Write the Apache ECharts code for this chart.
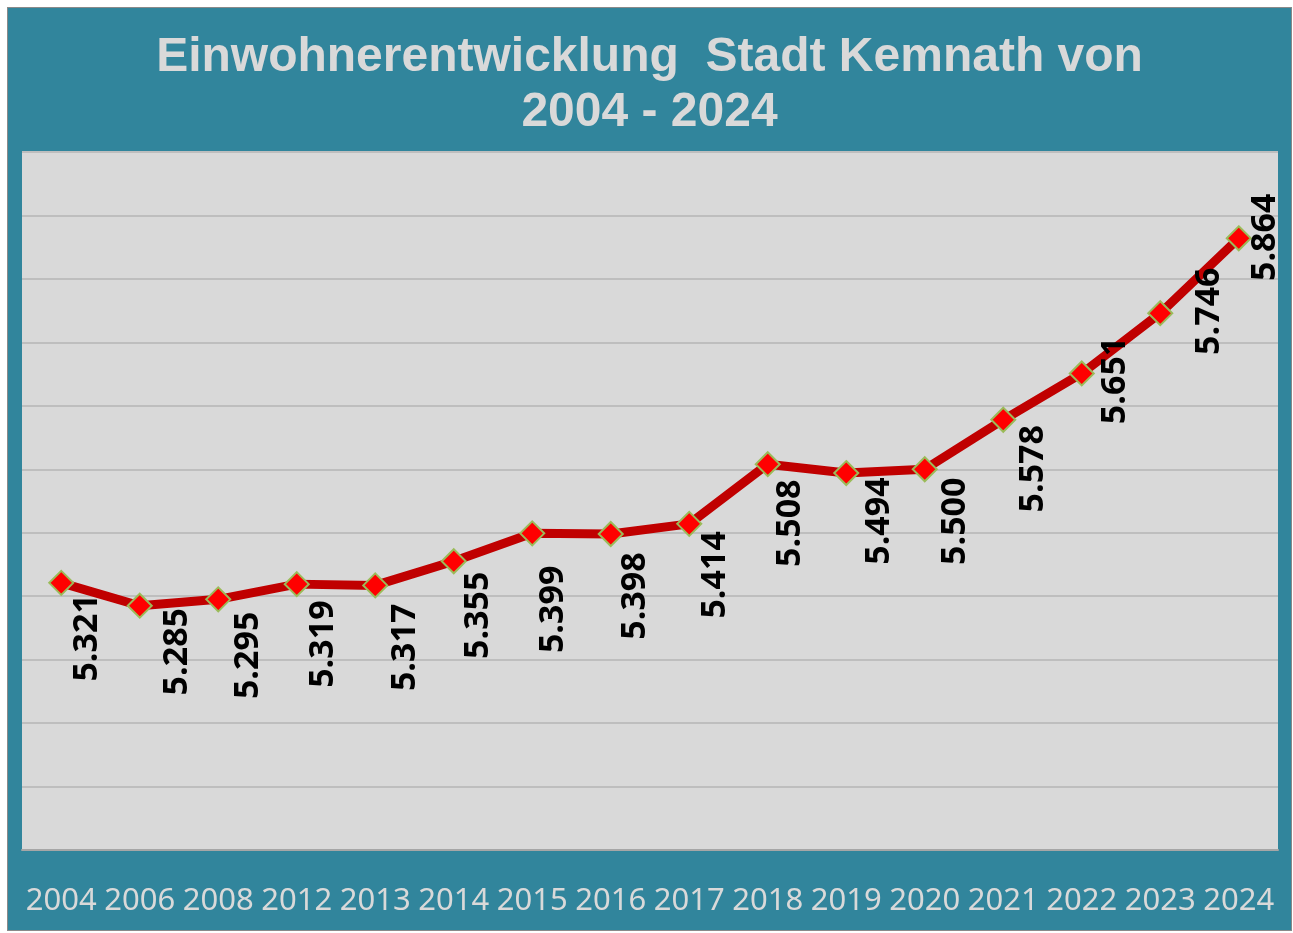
<!DOCTYPE html>
<html>
<head>
<meta charset="utf-8">
<script src="https://cdn.jsdelivr.net/npm/echarts@6/dist/echarts.min.js"></script>
<style>
html,body{margin:0;padding:0;background:#ffffff;}
#frame{position:absolute;left:7px;top:7px;width:1283px;height:922px;border:1px solid #8a8a8a;background:#31859C;}
#c{width:1283px;height:922px;}
</style>
</head>
<body>
<div id="frame"><div id="c"></div></div>
<script>
// ---- data ----
const years = ['2004','2006','2008','2012','2013','2014','2015','2016','2017','2018','2019','2020','2021','2022','2023','2024'];
const population = [5321, 5285, 5295, 5319, 5317, 5355, 5399, 5398, 5414, 5508, 5494, 5500, 5578, 5651, 5746, 5864];
const titleText = 'Einwohnerentwicklung  Stadt Kemnath von\n2004 - 2024';

// ---- label placement (style, px offset of label centre from the point) ----
const labelShift = [[27,56],[39,47],[31,57],[28,61],[31,63],[26,55],[22,77],[26,63],[27,52],[24,60],[34,49],[32,53],[31,50],[35,8],[50,-1],[28,0]];
const SYM = 24;

function fmt(v){
  const s = String(v);
  return s.slice(0, s.length-3) + '.' + s.slice(s.length-3);
}

const chart = echarts.init(document.getElementById('c'), null, {renderer:'canvas'});
chart.setOption({
  backgroundColor: 'transparent',
  animation: false,
  title: {
    text: titleText,
    left: 'center',
    top: 17,
    textStyle: {
      fontFamily: 'Liberation Sans, Arial, sans-serif',
      fontWeight: 'bold',
      fontSize: 48,
      lineHeight: 55,
      color: '#D9D9D9'
    }
  },
  grid: {
    left: 14, top: 144, width: 1256, height: 698,
    show: true, backgroundColor: '#D9D9D9', borderWidth: 0
  },
  xAxis: {
    type: 'category',
    data: years,
    boundaryGap: true,
    axisLine: {show: true, lineStyle: {color: '#A6A6A6', width: 2}},
    axisTick: {show: false},
    axisLabel: {
      interval: 0,
      margin: 36,
      color: '#D9D9D9',
      fontFamily: 'Noto Sans, sans-serif',
      fontSize: 31
    },
    splitLine: {show: false}
  },
  yAxis: {
    type: 'value',
    min: 4900, max: 6000, interval: 100,
    axisLine: {show: false},
    axisTick: {show: false},
    axisLabel: {show: false},
    splitLine: {show: true, lineStyle: {color: '#BEBEBE', width: 2}}
  },
  series: [{
    type: 'line',
    data: population.map((v, i) => ({
      value: v,
      label: {position: [SYM/2 + labelShift[i][0], SYM/2 + labelShift[i][1]]}
    })),
    lineStyle: {color: '#C00000', width: 9},
    symbol: 'diamond',
    symbolSize: SYM,
    itemStyle: {color: '#FF0000', borderColor: '#9BBB59', borderWidth: 2},
    label: {
      show: true,
      rotate: 90,
      align: 'center',
      verticalAlign: 'middle',
      formatter: p => fmt(p.value),
      color: '#000000',
      fontFamily: 'Open Sans, sans-serif',
      fontWeight: 'bold',
      fontSize: 34
    },
    labelLayout: {hideOverlap: false},
    z: 3
  }]
});
</script>
</body>
</html>
